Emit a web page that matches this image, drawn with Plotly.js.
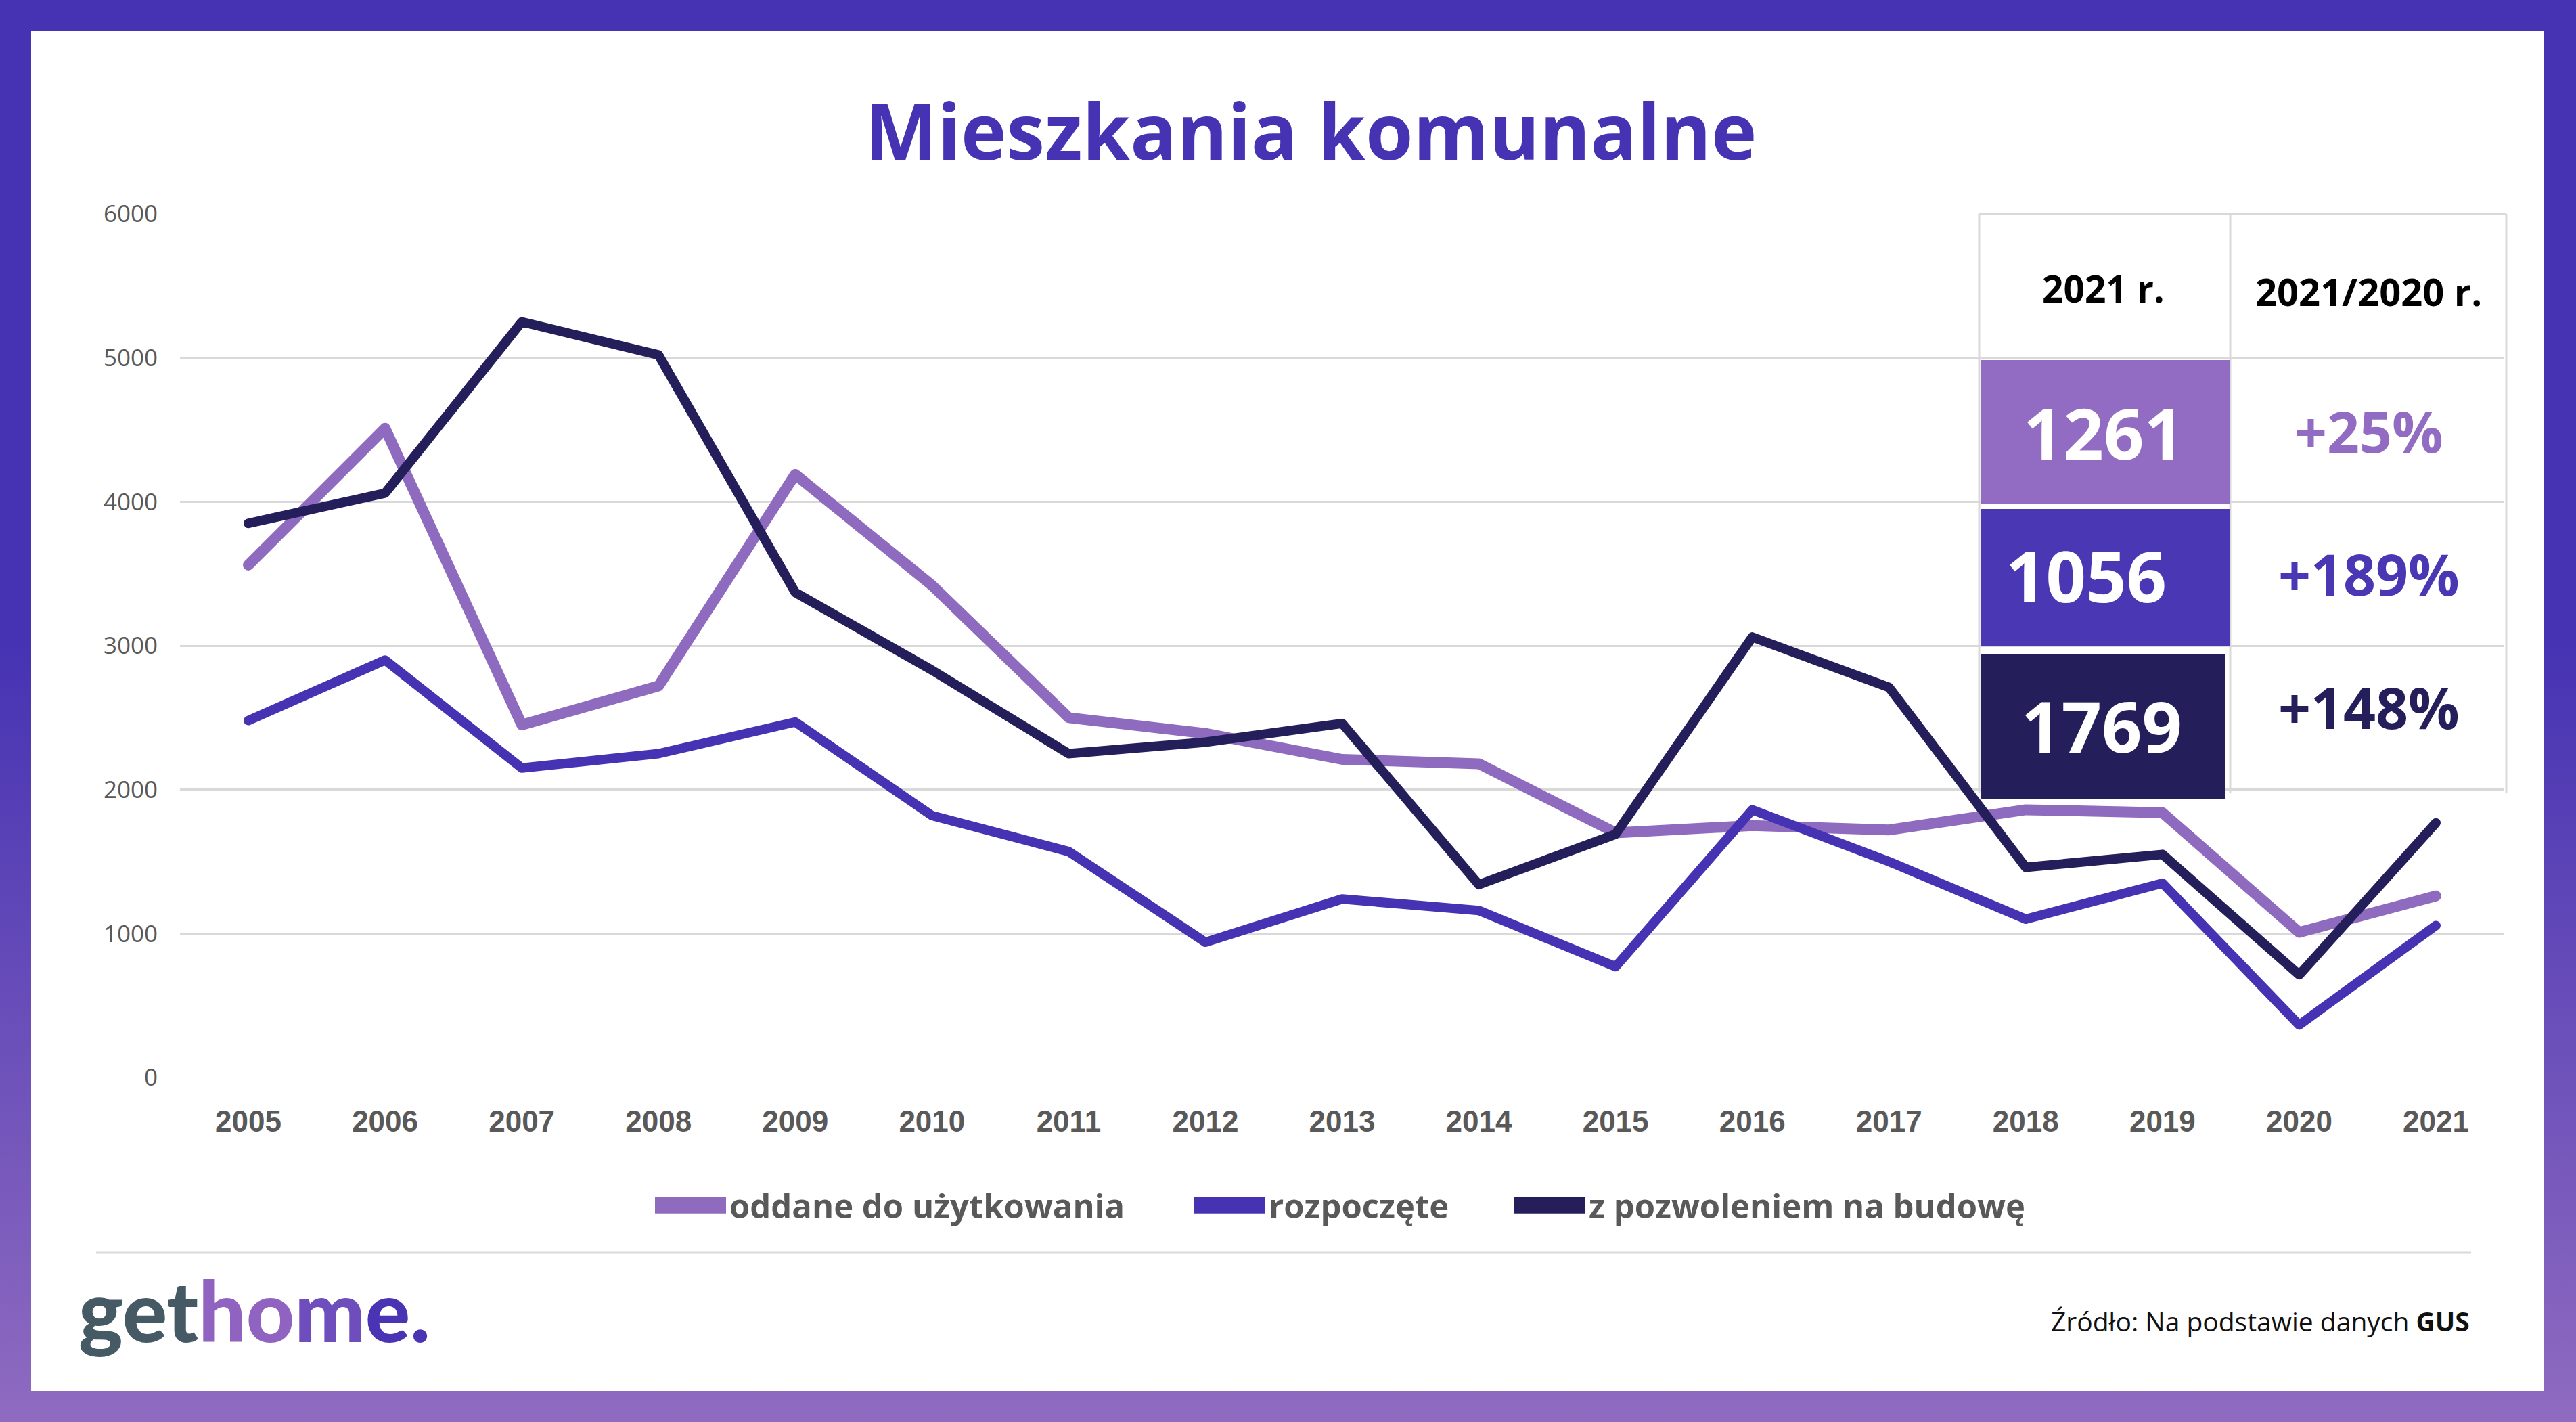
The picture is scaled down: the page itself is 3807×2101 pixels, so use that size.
<!DOCTYPE html>
<html>
<head>
<meta charset="utf-8">
<script src="https://cdn.plot.ly/plotly-3.0.1.min.js"></script>
<style>
  html, body { margin:0; padding:0; }
  body { width:3807px; height:2101px; position:relative; overflow:hidden;
         background: linear-gradient(to bottom, #4633b3 0%, #4633b3 45%, #8f6bc0 100%); }
  #inner { position:absolute; left:46px; top:46px; width:3714px; height:2009px; background:#ffffff; }
  #chart { position:absolute; left:0; top:0; width:3807px; height:2101px; }
  #chart .scatterlayer path.js-line { stroke-linejoin: round; stroke-linecap: round; }
  #chart .legendlines path { stroke-width: 24px !important; }
</style>
</head>
<body>
<div id="inner"></div>
<div id="chart"></div>
<script>
// ---- data ----
const years = ['2005','2006','2007','2008','2009','2010','2011','2012','2013','2014','2015','2016','2017','2018','2019','2020','2021'];
const oddane = [3560,4510,2450,2720,4190,3420,2500,2390,2210,2180,1700,1750,1720,1860,1840,1009,1261];
const rozpoczete = [2480,2900,2150,2250,2470,1820,1570,940,1240,1160,770,1860,1500,1100,1350,365,1056];
const pozwolenia = [3850,4060,5250,5020,3370,2830,2250,2330,2460,1340,1690,3060,2710,1460,1550,713,1769];
const seriesNames = ['oddane do użytkowania','rozpoczęte','z pozwoleniem na budowę'];
const seriesColors = ['#8f6bc0','#4633b3','#241f5a'];
const tableHeaders = ['2021 r.','2021/2020 r.'];
const changeLabels = ['+25%','+189%','+148%'];
const yTicks = [0,1000,2000,3000,4000,5000,6000];

// ---- geometry helpers (page pixels -> paper fractions) ----
const W = 3807, H = 2101, L = 266, R = 3701, T = 316, B = 1592;
const px = X => (X - L) / (R - L);
const py = Y => (B - Y) / (B - T);

const allSeries = [oddane, rozpoczete, pozwolenia];
const widths = [16, 14, 14];
const legends = ['legend', 'legend2', 'legend3'];
const traces = allSeries.map((s, i) => ({
  type: 'scatter', mode: 'lines', x: years, y: s, name: seriesNames[i],
  line: { color: seriesColors[i], width: widths[i] },
  legend: legends[i], hoverinfo: 'skip'
}));

const legendBase = {
  orientation: 'h', yanchor: 'middle', y: py(1781), xanchor: 'left',
  bgcolor: 'rgba(0,0,0,0)', borderwidth: 0,
  font: { family: 'Open Sans', size: 49, color: '#595959', weight: 'bold' },
  itemwidth: 105
};
const legendStarts = [963, 1760, 2233];

const shapes = [];
// table vertical lines
[2925, 3296, 3704].forEach(X => shapes.push({
  type: 'line', xref: 'paper', yref: 'paper', x0: px(X), x1: px(X), y0: py(316), y1: py(1172),
  line: { color: '#d9d9d9', width: 3 }
}));
shapes.push({ type: 'line', xref: 'paper', yref: 'paper', x0: px(2925), x1: px(3704), y0: py(316), y1: py(316), line: { color: '#d9d9d9', width: 3 } });
// coloured value boxes
const boxes = [[2927, 3295, 532, 744], [2927, 3295, 752, 955], [2927, 3288, 966, 1180]];
const boxColors = ['#916cc2', '#4a37b4', '#241f5a'];
boxes.forEach((b, i) => shapes.push({
  type: 'rect', xref: 'paper', yref: 'paper', x0: px(b[0]), x1: px(b[1]), y0: py(b[3]), y1: py(b[2]),
  fillcolor: boxColors[i], line: { width: 0 }, layer: 'above'
}));
// separator line under legend
shapes.push({ type: 'line', xref: 'paper', yref: 'paper', x0: px(142), x1: px(3652), y0: py(1851), y1: py(1851), line: { color: '#d9d9d9', width: 3 } });

const annotations = [];
const tFont = (size, color) => ({ family: 'Open Sans', size: size, color: color, weight: 'bold' });
annotations.push({ xref: 'paper', yref: 'paper', x: px(3108), y: py(426), text: tableHeaders[0], showarrow: false, xanchor: 'center', yanchor: 'middle', font: tFont(55, '#000000') });
annotations.push({ xref: 'paper', yref: 'paper', x: px(3500), y: py(430), text: tableHeaders[1], showarrow: false, xanchor: 'center', yanchor: 'middle', font: tFont(56, '#000000') });
const valCenters = [[3109, 638], [3083, 849], [3106, 1071]];
const chgCenters = [[3501, 636], [3501, 848], [3501, 1044]];
allSeries.forEach((s, i) => {
  annotations.push({ xref: 'paper', yref: 'paper', x: px(valCenters[i][0]), y: py(valCenters[i][1]), text: String(s[s.length - 1]), showarrow: false, xanchor: 'center', yanchor: 'middle', font: tFont(104, '#ffffff') });
  annotations.push({ xref: 'paper', yref: 'paper', x: px(chgCenters[i][0]), y: py(chgCenters[i][1]), text: changeLabels[i], showarrow: false, xanchor: 'center', yanchor: 'middle', font: tFont(84, boxColors[i]) });
});
// logo
annotations.push({ xref: 'paper', yref: 'paper', x: px(114), y: py(1935), xanchor: 'left', yanchor: 'middle', showarrow: false,
  text: '<span style="color:#465a65">get</span><span style="color:#9163c0">ho</span><span style="color:#6d4ebc">m</span><span style="color:#4a34b4">e.</span>',
  font: { family: 'Lato', size: 124, weight: 900, color: '#465a65' } });
// source
annotations.push({ xref: 'paper', yref: 'paper', x: px(3652), y: py(1951), xanchor: 'right', yanchor: 'middle', showarrow: false,
  text: 'Źródło: Na podstawie danych <b>GUS</b>',
  font: { family: 'Open Sans', size: 39, color: '#111111' } });

const layout = {
  width: W, height: H,
  paper_bgcolor: 'rgba(0,0,0,0)', plot_bgcolor: 'rgba(0,0,0,0)',
  margin: { l: L, r: W - R, t: T, b: H - B, pad: 0 },
  title: { text: 'Mieszkania komunalne', x: 1937 / W, xanchor: 'center', y: 1 - 196 / H, yanchor: 'middle',
           font: { family: 'Open Sans', size: 114, color: '#4633b3', weight: 'bold' } },
  xaxis: { type: 'category', range: [-0.5, 16.5], showgrid: false, zeroline: false, showline: false, ticks: '',
           tickfont: { family: 'Liberation Sans', size: 44, color: '#595959', weight: 'bold' }, ticklabelstandoff: 35, fixedrange: true },
  yaxis: { range: [0, 6000], tickvals: yTicks, showgrid: true, gridcolor: '#d9d9d9', gridwidth: 3, zeroline: false, showline: false, ticks: '',
           tickfont: { family: 'Open Sans', size: 35, color: '#595959' }, ticklabelstandoff: 32, fixedrange: true },
  showlegend: true,
  legend: Object.assign({}, legendBase, { x: px(legendStarts[0]) }),
  legend2: Object.assign({}, legendBase, { x: px(legendStarts[1]) }),
  legend3: Object.assign({}, legendBase, { x: px(legendStarts[2]) }),
  shapes: shapes,
  annotations: annotations
};

Plotly.newPlot('chart', traces, layout, { staticPlot: true, displayModeBar: false });
</script>
</body>
</html>
